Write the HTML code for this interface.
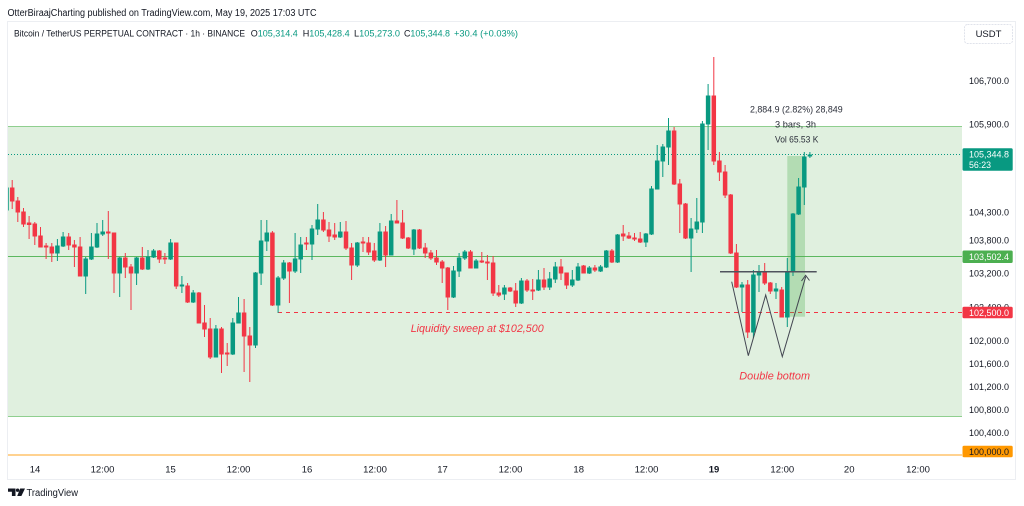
<!DOCTYPE html>
<html><head><meta charset="utf-8"><style>
html,body{margin:0;padding:0;background:#fff;width:1024px;height:506px;overflow:hidden}
svg{display:block;font-family:"Liberation Sans",Arial,sans-serif}
.g path{fill:#089981;stroke:#089981;stroke-width:1}
.r path{fill:#f23645;stroke:#f23645;stroke-width:1}
.ax{font-size:9.5px;fill:#131722}
</style></head><body>
<svg width="1024" height="506" viewBox="0 0 1024 506" xmlns="http://www.w3.org/2000/svg">
<defs><clipPath id="pc"><rect x="8" y="22" width="954" height="436"/></clipPath></defs>
<rect x="0" y="0" width="1024" height="506" fill="#fff"/>
<!-- header -->
<text x="7.5" y="16" font-size="10" fill="#131722" textLength="309" lengthAdjust="spacingAndGlyphs">OtterBiraajCharting published on TradingView.com, May 19, 2025 17:03 UTC</text>
<rect x="7.5" y="21.5" width="1008" height="458" fill="none" stroke="#eceef2" stroke-width="1"/>
<text x="14" y="36.5" font-size="9.5" fill="#131722" textLength="231" lengthAdjust="spacingAndGlyphs">Bitcoin / TetherUS PERPETUAL CONTRACT · 1h · BINANCE</text>
<text x="250.7" y="36.5" font-size="9.5" fill="#089981" textLength="47" lengthAdjust="spacingAndGlyphs"><tspan fill="#131722">O</tspan>105,314.4</text>
<text x="302.7" y="36.5" font-size="9.5" fill="#089981" textLength="47" lengthAdjust="spacingAndGlyphs"><tspan fill="#131722">H</tspan>105,428.4</text>
<text x="354" y="36.5" font-size="9.5" fill="#089981" textLength="46" lengthAdjust="spacingAndGlyphs"><tspan fill="#131722">L</tspan>105,273.0</text>
<text x="404" y="36.5" font-size="9.5" fill="#089981" textLength="46" lengthAdjust="spacingAndGlyphs"><tspan fill="#131722">C</tspan>105,344.8</text>
<text x="454" y="36.5" font-size="9.5" fill="#089981" textLength="64" lengthAdjust="spacingAndGlyphs">+30.4 (+0.03%)</text>
<!-- USDT box -->
<rect x="964.5" y="24.5" width="48" height="19" rx="3" fill="#fff" stroke="#e0e3eb" stroke-dasharray="2 1"/>
<text x="988.5" y="37" font-size="9.5" fill="#131722" text-anchor="middle">USDT</text>
<!-- zone -->
<rect x="8" y="126" width="954" height="290" fill="#e0f0df"/>
<line x1="8" y1="126.5" x2="962" y2="126.5" stroke="#8fcf8f" stroke-width="1"/>
<line x1="8" y1="416.5" x2="962" y2="416.5" stroke="#8fcf8f" stroke-width="1"/>
<line x1="8" y1="256.5" x2="962" y2="256.5" stroke="#5cb85f" stroke-width="1"/>
<line x1="8" y1="154.5" x2="962" y2="154.5" stroke="#089981" stroke-width="1" stroke-dasharray="1 2"/>
<line x1="278" y1="312.5" x2="962" y2="312.5" stroke="#f23645" stroke-width="1" stroke-dasharray="4 4"/>
<line x1="8" y1="455" x2="962" y2="455" stroke="#ffb74d" stroke-width="1.2"/>
<!-- measure rect -->
<rect x="787.3" y="156" width="17.7" height="160.7" fill="#4caf50" fill-opacity="0.3"/>
<g clip-path="url(#pc)">
<g class="g">
<path d="M6.5 185V212M4.75 188h3.5V210h-3.5Z"/>
<path d="M57.4 239V261M55.65 246h3.5V253h-3.5Z"/>
<path d="M63.1 232V247M61.35 237h3.5V246h-3.5Z"/>
<path d="M85.7 257V294M83.95 259h3.5V276h-3.5Z"/>
<path d="M91.4 233V260M89.65 247h3.5V259h-3.5Z"/>
<path d="M97 223V248M95.25 234h3.5V247h-3.5Z"/>
<path d="M102.7 220V236M100.95 232h3.5V234h-3.5Z"/>
<path d="M119.7 257V297M117.95 258h3.5V273h-3.5Z"/>
<path d="M136.6 257V285M134.85 258h3.5V273h-3.5Z"/>
<path d="M148 250V270M146.25 257h3.5V269h-3.5Z"/>
<path d="M153.6 249V258M151.85 251h3.5V257h-3.5Z"/>
<path d="M170.6 239V260M168.85 243h3.5V259h-3.5Z"/>
<path d="M181.9 276V293M180.15 285h3.5V286h-3.5Z"/>
<path d="M193.2 290V303M191.45 293h3.5V302h-3.5Z"/>
<path d="M215.9 325V357M214.15 329h3.5V357h-3.5Z"/>
<path d="M232.8 318V355M231.05 323h3.5V354h-3.5Z"/>
<path d="M238.5 297V323M236.75 313h3.5V323h-3.5Z"/>
<path d="M255.5 272V348M253.75 273h3.5V345h-3.5Z"/>
<path d="M261.1 220V285M259.35 241h3.5V273h-3.5Z"/>
<path d="M266.8 220V251M265.05 233h3.5V241h-3.5Z"/>
<path d="M278.1 276V313M276.35 278h3.5V305h-3.5Z"/>
<path d="M283.7 260V280M281.95 263h3.5V278h-3.5Z"/>
<path d="M295.1 233V273M293.35 259h3.5V271h-3.5Z"/>
<path d="M300.7 237V273M298.95 245h3.5V259h-3.5Z"/>
<path d="M312 225V260M310.25 229h3.5V244h-3.5Z"/>
<path d="M317.7 204V235M315.95 220h3.5V229h-3.5Z"/>
<path d="M340.3 222V238M338.55 232h3.5V237h-3.5Z"/>
<path d="M357.3 242V267M355.55 243h3.5V265h-3.5Z"/>
<path d="M379.9 223V261M378.15 232h3.5V260h-3.5Z"/>
<path d="M391.2 214V255M389.45 221h3.5V255h-3.5Z"/>
<path d="M413.9 229V255M412.15 230h3.5V249h-3.5Z"/>
<path d="M453.5 266V298M451.75 271h3.5V297h-3.5Z"/>
<path d="M459.1 253V277M457.35 258h3.5V271h-3.5Z"/>
<path d="M464.8 250V260M463.05 252h3.5V258h-3.5Z"/>
<path d="M476.1 259V268M474.35 261h3.5V268h-3.5Z"/>
<path d="M504.4 285V300M502.65 288h3.5V294h-3.5Z"/>
<path d="M521.4 278V304M519.65 281h3.5V303h-3.5Z"/>
<path d="M538.4 270V291M536.65 280h3.5V290h-3.5Z"/>
<path d="M549.7 272V290M547.95 279h3.5V287h-3.5Z"/>
<path d="M555.3 262V283M553.55 267h3.5V279h-3.5Z"/>
<path d="M572.3 270V287M570.55 280h3.5V285h-3.5Z"/>
<path d="M578 263V281M576.25 267h3.5V280h-3.5Z"/>
<path d="M589.3 266V274M587.55 268h3.5V273h-3.5Z"/>
<path d="M600.6 265V272M598.85 267h3.5V271h-3.5Z"/>
<path d="M606.3 250V268M604.55 251h3.5V267h-3.5Z"/>
<path d="M617.6 234V263M615.85 235h3.5V262h-3.5Z"/>
<path d="M645.9 233V247M644.15 234h3.5V242h-3.5Z"/>
<path d="M651.5 186V235M649.75 189h3.5V234h-3.5Z"/>
<path d="M657.2 145V189M655.45 161h3.5V189h-3.5Z"/>
<path d="M662.8 144V177M661.05 147h3.5V161h-3.5Z"/>
<path d="M668.5 118V165M666.75 131h3.5V147h-3.5Z"/>
<path d="M691.1 218V272M689.35 229h3.5V238h-3.5Z"/>
<path d="M696.8 198V233M695.05 222h3.5V229h-3.5Z"/>
<path d="M702.4 121V233M700.65 124h3.5V222h-3.5Z"/>
<path d="M708.1 84V150M706.35 96h3.5V124h-3.5Z"/>
<path d="M742 282V312M740.25 285h3.5V287h-3.5Z"/>
<path d="M753.4 270V338M751.65 275h3.5V332h-3.5Z"/>
<path d="M759 265V292M757.25 273h3.5V275h-3.5Z"/>
<path d="M776 283V299M774.25 289h3.5V291h-3.5Z"/>
<path d="M787.3 258V327M785.55 272h3.5V317h-3.5Z"/>
<path d="M793 213V276M791.25 214h3.5V272h-3.5Z"/>
<path d="M798.6 178V215M796.85 187h3.5V214h-3.5Z"/>
<path d="M804.3 152V205M802.55 157h3.5V187h-3.5Z"/>
<path d="M809.9 152V158M808.15 155h3.5V156h-3.5Z"/>
</g>
<g class="r">
<path d="M12.2 180V209M10.45 188h3.5V201h-3.5Z"/>
<path d="M17.8 197V222M16.05 201h3.5V212h-3.5Z"/>
<path d="M23.5 208V227M21.75 212h3.5V224h-3.5Z"/>
<path d="M29.1 216V239M27.35 223h3.5V224.5h-3.5Z"/>
<path d="M34.8 222V245M33.05 224h3.5V236h-3.5Z"/>
<path d="M40.5 227V247M38.75 236h3.5V247h-3.5Z"/>
<path d="M46.1 243V259M44.35 246h3.5V247h-3.5Z"/>
<path d="M51.8 243V262M50.05 247h3.5V253h-3.5Z"/>
<path d="M68.7 233V250M66.95 237h3.5V245h-3.5Z"/>
<path d="M74.4 240V267M72.65 245h3.5V247h-3.5Z"/>
<path d="M80.1 237V276M78.35 247h3.5V276h-3.5Z"/>
<path d="M108.3 211V259M106.55 232h3.5V233h-3.5Z"/>
<path d="M114 233V293M112.25 233h3.5V273h-3.5Z"/>
<path d="M125.3 253V278M123.55 258h3.5V267h-3.5Z"/>
<path d="M131 264V310M129.25 267h3.5V273h-3.5Z"/>
<path d="M142.3 247V270M140.55 258h3.5V269h-3.5Z"/>
<path d="M159.3 250V263M157.55 251h3.5V259h-3.5Z"/>
<path d="M164.9 253V264M163.15 258h3.5V259h-3.5Z"/>
<path d="M176.2 243V289M174.45 243h3.5V286h-3.5Z"/>
<path d="M187.6 283V303M185.85 286h3.5V302h-3.5Z"/>
<path d="M198.9 292V323M197.15 293h3.5V323h-3.5Z"/>
<path d="M204.5 305V337M202.75 323h3.5V329h-3.5Z"/>
<path d="M210.2 318V359M208.45 329h3.5V357h-3.5Z"/>
<path d="M221.5 327V373M219.75 329h3.5V354h-3.5Z"/>
<path d="M227.2 343V366M225.45 353h3.5V354h-3.5Z"/>
<path d="M244.1 299V372M242.35 313h3.5V336h-3.5Z"/>
<path d="M249.8 327V382M248.05 336h3.5V345h-3.5Z"/>
<path d="M272.4 231V306M270.65 233h3.5V305h-3.5Z"/>
<path d="M289.4 262V303M287.65 263h3.5V271h-3.5Z"/>
<path d="M306.4 237V250M304.65 243h3.5V244h-3.5Z"/>
<path d="M323.4 212V232M321.65 220h3.5V230h-3.5Z"/>
<path d="M329 222V242M327.25 230h3.5V236h-3.5Z"/>
<path d="M334.7 223V240M332.95 235h3.5V237h-3.5Z"/>
<path d="M346 221V250M344.25 232h3.5V248h-3.5Z"/>
<path d="M351.6 243V280M349.85 248h3.5V265h-3.5Z"/>
<path d="M363 237V252M361.25 242h3.5V243h-3.5Z"/>
<path d="M368.6 237V255M366.85 243h3.5V252h-3.5Z"/>
<path d="M374.3 243V262M372.55 251h3.5V260h-3.5Z"/>
<path d="M385.6 226V267M383.85 232h3.5V255h-3.5Z"/>
<path d="M396.9 200V223M395.15 221h3.5V223h-3.5Z"/>
<path d="M402.6 210V239M400.85 223h3.5V238h-3.5Z"/>
<path d="M408.2 237V249M406.45 238h3.5V248h-3.5Z"/>
<path d="M419.5 229V249M417.75 230h3.5V248h-3.5Z"/>
<path d="M425.2 243V258M423.45 248h3.5V253h-3.5Z"/>
<path d="M430.9 250V260M429.15 253h3.5V258h-3.5Z"/>
<path d="M436.5 250V265M434.75 258h3.5V262h-3.5Z"/>
<path d="M442.2 260V283M440.45 262h3.5V268h-3.5Z"/>
<path d="M447.8 267V310M446.05 268h3.5V297h-3.5Z"/>
<path d="M470.5 250V268M468.75 252h3.5V268h-3.5Z"/>
<path d="M481.8 252V263M480.05 261h3.5V262h-3.5Z"/>
<path d="M487.4 255V280M485.65 262h3.5V263h-3.5Z"/>
<path d="M493.1 256V296M491.35 263h3.5V293h-3.5Z"/>
<path d="M498.8 285V297M497.05 293h3.5V295h-3.5Z"/>
<path d="M510.1 287V292M508.35 288h3.5V291h-3.5Z"/>
<path d="M515.7 283V307M513.95 291h3.5V303h-3.5Z"/>
<path d="M527 279V292M525.25 281h3.5V290h-3.5Z"/>
<path d="M532.7 279V300M530.95 290h3.5V291h-3.5Z"/>
<path d="M544 268V290M542.25 280h3.5V287h-3.5Z"/>
<path d="M561 259V280M559.25 267h3.5V273h-3.5Z"/>
<path d="M566.6 273V289M564.85 273h3.5V285h-3.5Z"/>
<path d="M583.6 265V273M581.85 266h3.5V273h-3.5Z"/>
<path d="M594.9 265V272M593.15 268h3.5V270h-3.5Z"/>
<path d="M611.9 249V263M610.15 251h3.5V262h-3.5Z"/>
<path d="M623.2 225V241M621.45 234h3.5V236h-3.5Z"/>
<path d="M628.9 232V239M627.15 236h3.5V238h-3.5Z"/>
<path d="M634.5 233V241M632.75 238h3.5V239h-3.5Z"/>
<path d="M640.2 232V243M638.45 239h3.5V242h-3.5Z"/>
<path d="M674.1 127V185M672.35 131h3.5V184h-3.5Z"/>
<path d="M679.8 179V233M678.05 184h3.5V204h-3.5Z"/>
<path d="M685.5 203V239M683.75 204h3.5V238h-3.5Z"/>
<path d="M713.8 57V165M712.05 96h3.5V161h-3.5Z"/>
<path d="M719.4 152V181M717.65 161h3.5V172h-3.5Z"/>
<path d="M725.1 165V198M723.35 172h3.5V195h-3.5Z"/>
<path d="M730.7 194V254M728.95 195h3.5V253h-3.5Z"/>
<path d="M736.4 244V288M734.65 253h3.5V287h-3.5Z"/>
<path d="M747.7 280V338M745.95 285h3.5V332h-3.5Z"/>
<path d="M764.7 263V285M762.95 273h3.5V283h-3.5Z"/>
<path d="M770.3 282V294M768.55 283h3.5V291h-3.5Z"/>
<path d="M781.7 287V317M779.95 290h3.5V317h-3.5Z"/>
</g>
</g>
<!-- pattern drawings -->
<line x1="720" y1="271.7" x2="816.7" y2="271.7" stroke="#50535e" stroke-width="1.5"/>
<polyline points="731.7,281.7 748.3,355.7 765.7,295 782.3,356.7 805.7,276.7" fill="none" stroke="#434651" stroke-width="1"/>
<polyline points="801.5,281 805.6,275.3 809.5,280.5" fill="none" stroke="#434651" stroke-width="1"/>
<!-- measure text -->
<text x="796.3" y="112.3" font-size="9.5" fill="#2a2e39" text-anchor="middle" textLength="92.7" lengthAdjust="spacingAndGlyphs">2,884.9 (2.82%) 28,849</text>
<text x="795.5" y="127.3" font-size="9.5" fill="#2a2e39" text-anchor="middle" textLength="41" lengthAdjust="spacingAndGlyphs">3 bars, 3h</text>
<text x="796.7" y="142.6" font-size="9.5" fill="#2a2e39" text-anchor="middle" textLength="43.3" lengthAdjust="spacingAndGlyphs">Vol 65.53 K</text>
<!-- annotations -->
<text x="410.7" y="332" font-size="11" font-style="italic" fill="#f23645" textLength="133" lengthAdjust="spacingAndGlyphs">Liquidity sweep at $102,500</text>
<text x="739.3" y="379.5" font-size="11" font-style="italic" fill="#f23645" textLength="70.7" lengthAdjust="spacingAndGlyphs">Double bottom</text>
<!-- price axis -->
<g class="ax">
<text x="969" y="84.1" textLength="40" lengthAdjust="spacingAndGlyphs">106,700.0</text>
<text x="969" y="127.4" textLength="40" lengthAdjust="spacingAndGlyphs">105,900.0</text>
<text x="969" y="215.7" textLength="40" lengthAdjust="spacingAndGlyphs">104,300.0</text>
<text x="969" y="243.4" textLength="40" lengthAdjust="spacingAndGlyphs">103,800.0</text>
<text x="969" y="276.7" textLength="40" lengthAdjust="spacingAndGlyphs">103,200.0</text>
<text x="969" y="310.5" textLength="40" lengthAdjust="spacingAndGlyphs">102,400.0</text>
<text x="969" y="344.1" textLength="40" lengthAdjust="spacingAndGlyphs">102,000.0</text>
<text x="969" y="367.1" textLength="40" lengthAdjust="spacingAndGlyphs">101,600.0</text>
<text x="969" y="390.1" textLength="40" lengthAdjust="spacingAndGlyphs">101,200.0</text>
<text x="969" y="413.1" textLength="40" lengthAdjust="spacingAndGlyphs">100,800.0</text>
<text x="969" y="436.1" textLength="40" lengthAdjust="spacingAndGlyphs">100,400.0</text>
</g>
<rect x="962.5" y="148.3" width="50.2" height="22.4" rx="1.5" fill="#089981"/>
<text x="969" y="157.6" font-size="9.5" fill="#fff" textLength="40" lengthAdjust="spacingAndGlyphs">105,344.8</text>
<text x="969" y="167.8" font-size="9.5" fill="#fff" textLength="22" lengthAdjust="spacingAndGlyphs">56:23</text>
<rect x="962.5" y="250.5" width="50.2" height="12.5" rx="1.5" fill="#4caf50"/>
<text x="969" y="260.2" font-size="9.5" fill="#fff" textLength="40" lengthAdjust="spacingAndGlyphs">103,502.4</text>
<rect x="962.5" y="306.7" width="50.2" height="11.6" rx="1.5" fill="#f23645"/>
<text x="969" y="315.9" font-size="9.5" fill="#fff" textLength="40" lengthAdjust="spacingAndGlyphs">102,500.0</text>
<rect x="962.5" y="445.7" width="50.2" height="11.6" rx="1.5" fill="#ff9800"/>
<text x="969" y="454.9" font-size="9.5" fill="#131722" textLength="40" lengthAdjust="spacingAndGlyphs">100,000.0</text>
<!-- time axis -->
<g class="ax" text-anchor="middle">
<text x="35" y="472.7">14</text>
<text x="102.5" y="472.7">12:00</text>
<text x="170.5" y="472.7">15</text>
<text x="238.5" y="472.7">12:00</text>
<text x="307" y="472.7">16</text>
<text x="375" y="472.7">12:00</text>
<text x="442.5" y="472.7">17</text>
<text x="510.5" y="472.7">12:00</text>
<text x="578.7" y="472.7">18</text>
<text x="646.5" y="472.7">12:00</text>
<text x="714" y="472.7" font-weight="bold">19</text>
<text x="782.3" y="472.7">12:00</text>
<text x="849.2" y="472.7">20</text>
<text x="918" y="472.7">12:00</text>
</g>
<!-- logo -->
<path d="M8 488.5h7.5v7.5h-3.6v-4.3H8z" fill="#131722"/>
<circle cx="17.6" cy="490.2" r="1.7" fill="#131722"/>
<path d="M20.2 488.5h4.8l-3.6 7.5h-4.2z" fill="#131722"/>
<text x="26.5" y="495.8" font-size="10" fill="#131722" textLength="51.5" lengthAdjust="spacingAndGlyphs">TradingView</text>
</svg>
</body></html>
